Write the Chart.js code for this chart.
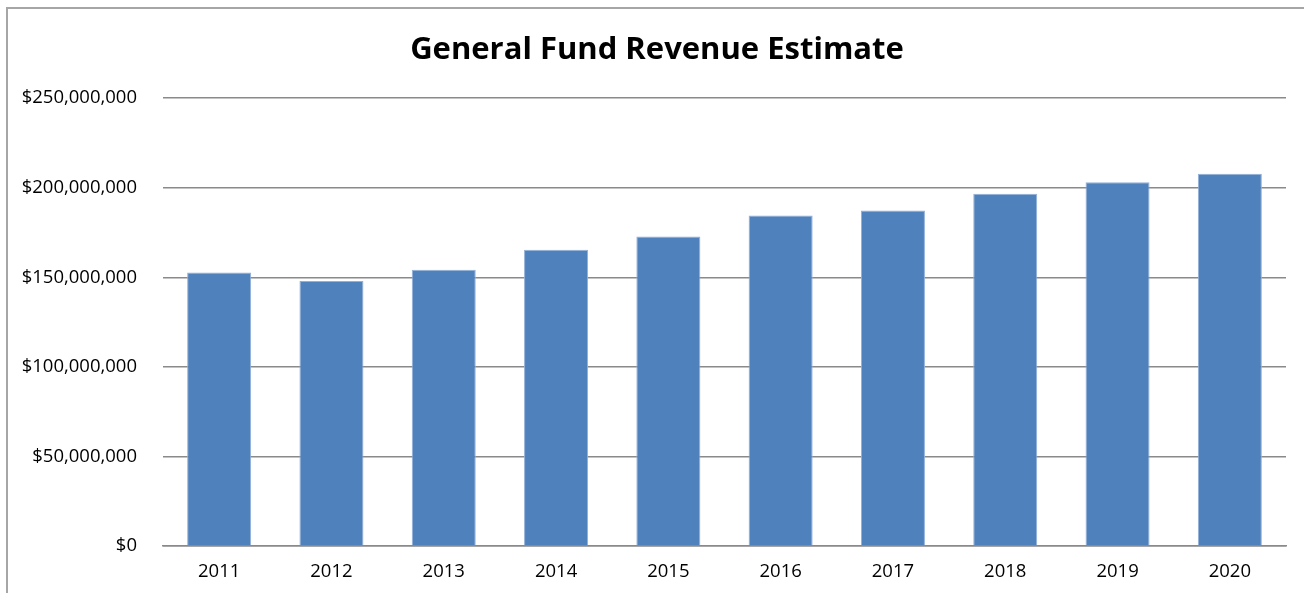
<!DOCTYPE html>
<html>
<head>
<meta charset="utf-8">
<script src="https://cdn.jsdelivr.net/npm/chart.js@4"></script>
<style>
  html,body{margin:0;padding:0;background:#fff;}
  #wrap{position:absolute;left:0;top:0;width:1304px;height:593px;}
  #frame{position:absolute;left:6px;top:7px;right:-4px;bottom:-4px;border:2px solid #a6a6a6;}
</style>
</head>
<body>
<div id="wrap">
  <div id="frame"></div>
  <canvas id="chart" width="1304" height="593"></canvas>
</div>
<script>
// årstall og estimater (millioner dollar)
const years = ["2011","2012","2013","2014","2015","2016","2017","2018","2019","2020"];
const revenueMillions = [152.7, 147.9, 154.2, 165.4, 172.8, 184.5, 187.3, 196.7, 203.1, 207.8];
const chartTitle = "General Fund Revenue Estimate";

const revenue = revenueMillions.map(v => v * 1000000);
const gridColor = "#8a8a8a";

// flytter tittelboksen slik at tittelen blir sentrert over hele rammen
const titleShift = {
  id: "titleShift",
  afterLayout(chart){
    if(chart.titleBlock) chart.titleBlock.left = 28;
  }
};

new Chart(document.getElementById("chart"), {
  type: "bar",
  data: {
    labels: years,
    datasets: [{
      data: revenue,
      backgroundColor: "#4f81bd",
      borderColor: "#92b0d8",
      borderWidth: 1,
      borderSkipped: "bottom",
      categoryPercentage: 1,
      barPercentage: 0.57
    }]
  },
  options: {
    responsive: false,
    animation: false,
    layout: { padding: { left: 0, right: 18, top: 0, bottom: 0 } },
    plugins: {
      legend: { display: false },
      tooltip: { enabled: false },
      title: {
        display: true,
        text: chartTitle,
        color: "#000",
        font: { family: "'Open Sans'", size: 31, weight: "bold" },
        padding: { top: 32, bottom: 29 }
      }
    },
    scales: {
      x: {
        grid: { display: false, drawTicks: false },
        border: { display: true, color: gridColor, width: 1.5 },
        ticks: { color: "#000", padding: 15, font: { family: "'Open Sans'", size: 18.5 } },
        afterFit: s => { s.height = 47; }
      },
      y: {
        min: 0,
        max: 250000000,
        grid: { color: gridColor, lineWidth: 1.5, drawTicks: false },
        border: { display: false },
        ticks: {
          stepSize: 50000000,
          color: "#000",
          padding: 26,
          font: { family: "'Open Sans'", size: 18.5 },
          callback: v => "$" + v.toLocaleString("en-US")
        },
        afterFit: s => { s.width = 163; }
      }
    }
  },
  plugins: [titleShift]
});
</script>
</body>
</html>
